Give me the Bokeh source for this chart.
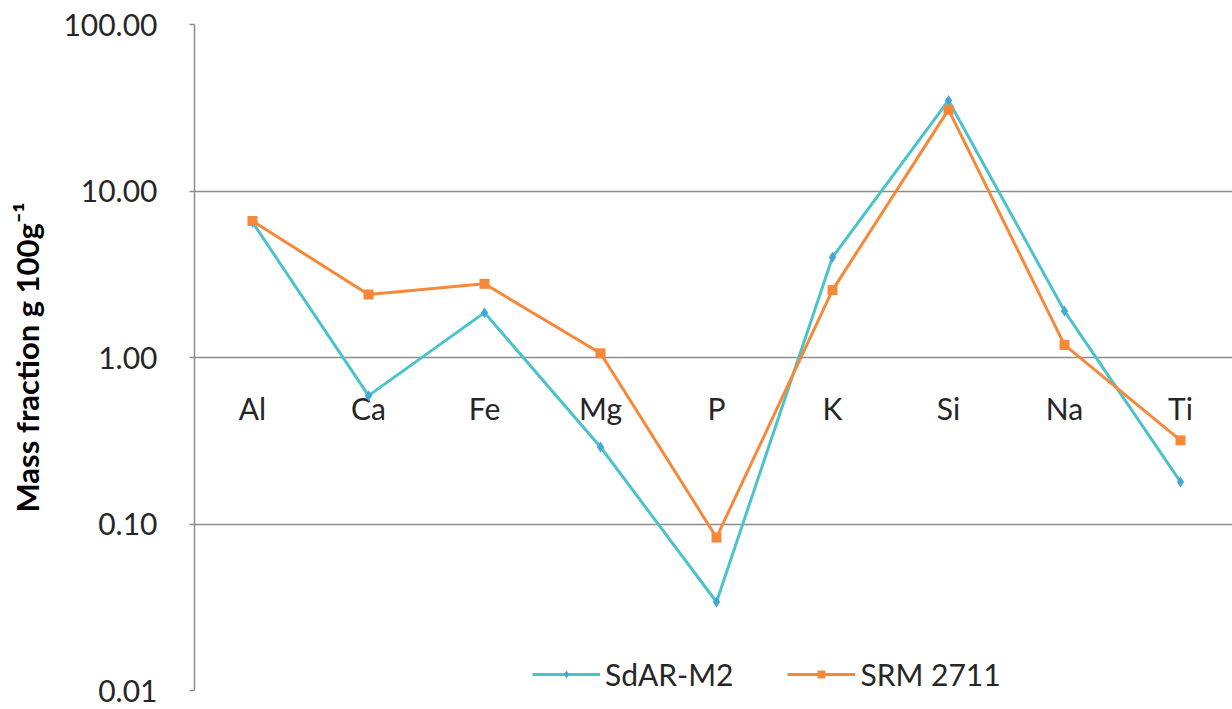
from bokeh.plotting import figure
from bokeh.models import Range1d, FixedTicker, PrintfTickFormatter, Legend, LegendItem, ColumnDataSource
from bokeh.core.properties import value
from bokeh.embed import file_html
from bokeh.resources import INLINE

# ---- data ----
categories = ["Al", "Ca", "Fe", "Mg", "P", "K", "Si", "Na", "Ti"]
sdar_m2 = [6.5, 0.59, 1.86, 0.29, 0.034, 4.0, 35.0, 1.9, 0.179]
srm_2711 = [6.6, 2.39, 2.77, 1.06, 0.083, 2.54, 30.8, 1.19, 0.318]
y_ticks = [0.01, 0.1, 1, 10, 100]
axis_cross = 1.0  # category axis crosses the value axis at 1.00

xs = list(range(len(categories)))
src = ColumnDataSource(dict(x=xs, cat=categories, a=sdar_m2, b=srm_2711,
                            cross=[axis_cross] * len(categories)))

TEAL = "#4bc3ca"
TEAL_MK = "#44a8d4"
ORANGE = "#f7883a"
GRID = "#8c8c8c"
FONT = "Lato"

p = figure(width=1232, height=709, y_axis_type="log",
           x_range=Range1d(-0.5, -0.5 + 1038 / 116), y_range=Range1d(0.01, 100),
           x_axis_location=None, output_backend="svg", toolbar_location=None,
           min_border_left=194, min_border_right=0, min_border_top=24, min_border_bottom=19)
p.outline_line_color = None
p.background_fill_color = None
p.border_fill_color = "white"

p.xgrid.visible = False
p.ygrid.ticker = FixedTicker(ticks=y_ticks)
p.ygrid.grid_line_color = GRID
p.ygrid.grid_line_width = 1.5

ax = p.yaxis[0]
ax.ticker = FixedTicker(ticks=y_ticks)
ax.formatter = PrintfTickFormatter(format="%.2f")
ax.minor_tick_line_color = None
ax.major_tick_in = 0
ax.major_tick_out = 5
ax.major_tick_line_color = GRID
ax.major_tick_line_width = 1.5
ax.axis_line_color = GRID
ax.axis_line_width = 1.5
ax.major_label_standoff = 32
ax.major_label_text_font = FONT
ax.major_label_text_font_size = "30px"
ax.major_label_text_color = "#262626"
ax.axis_label = "Mass fraction g 100g\u207b\u00b9"
ax.axis_label_text_font = FONT
ax.axis_label_text_font_style = "bold"
ax.axis_label_text_font_size = "31px"
ax.axis_label_text_color = "#000000"
ax.axis_label_standoff = 14

# category labels
p.text(x="x", y="cross", text="cat", source=src, text_align="center", text_baseline="middle",
       y_offset=50, text_font=value(FONT), text_font_size=value("30px"), text_color="#262626")

l1 = p.line(x="x", y="a", source=src, line_color=TEAL, line_width=3)
s1 = p.scatter(x="x", y="a", source=src, marker="diamond", size=11, fill_color=TEAL_MK,
               line_color=None)
l2 = p.line(x="x", y="b", source=src, line_color=ORANGE, line_width=3)
s2 = p.scatter(x="x", y="b", source=src, marker="square", size=10, fill_color=ORANGE,
               line_color=None)

legend = Legend(items=[LegendItem(label="SdAR-M2", renderers=[l1, s1]),
                       LegendItem(label="SRM 2711", renderers=[l2, s2])],
                orientation="horizontal", location=(338, -2), padding=0, margin=0,
                spacing=54, label_standoff=5, glyph_width=68, glyph_height=20,
                background_fill_alpha=0, border_line_alpha=0,
                label_text_font=FONT, label_text_font_size="30px",
                label_text_color="#262626")
p.add_layout(legend, "center")

open("out.html", "w").write(file_html(p, INLINE))
